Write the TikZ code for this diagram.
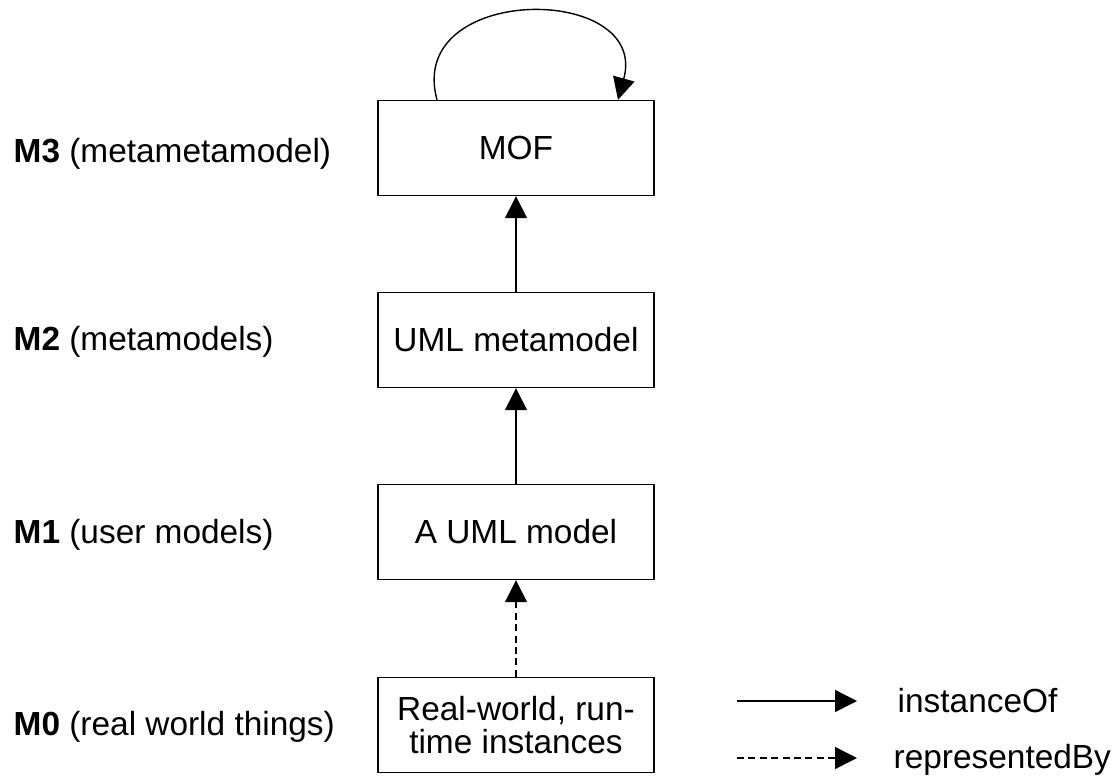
\documentclass[tikz,border=0pt]{standalone}
\usepackage{fontspec}
\setmainfont{Liberation Sans}
\usetikzlibrary{arrows.meta}

\begin{document}
\begin{tikzpicture}[x=0.5pt, y=-0.5pt, line width=0.7pt,
        font=\fontsize{16.7}{16.5}\selectfont,
        bx/.style={draw, minimum width=138pt, minimum height=47.5pt, inner sep=0pt, align=center},
        lv/.style={anchor=base west, inner sep=0pt},
        rep/.style={dash pattern=on 3.5pt off 2.2pt},
        >={Triangle[length=11pt, width=11pt]}]
            \useasboundingbox (0,0) rectangle (1118,776);
            \draw (516,148) node[bx](3){MOF};
            \draw (516,340) node[bx](2){UML metamodel};
            \draw (516,532) node[bx](1){A UML model};
            \draw (516,725) node[bx](0){Real-world, run-\\time instances};

            \draw (13,162) node[lv](l3){\textbf{M3} (metametamodel)};
            \draw (13,350) node[lv](l2){\textbf{M2} (metamodels)};
            \draw (13,543) node[lv](l1){\textbf{M1} (user models)};
            \draw (13,735) node[lv](l0){\textbf{M0} (real world things)};

            \begin{scope}[->]
                \path (2) edge (3);
                \path (1) edge (2);
                \path[rep] (0) edge (1);
                \draw ([xshift=-39.5pt]3.north) .. controls (405,-17) and (650,-17) .. ([xshift=51pt]3.north);
            \end{scope}

            % legend
            \coordinate (i0) at (737,701);
            \coordinate (i1) at (857,701);
            \coordinate (r0) at (737,758);
            \coordinate (r1) at (857,758);
            \draw[->] (i0) -- (i1);
            \draw[->, rep] (r0) -- (r1);
            \draw (897,712) node[lv](inst){instanceOf};
            \draw (893,768) node[lv](repr){representedBy};
        \end{tikzpicture}
\end{document}
